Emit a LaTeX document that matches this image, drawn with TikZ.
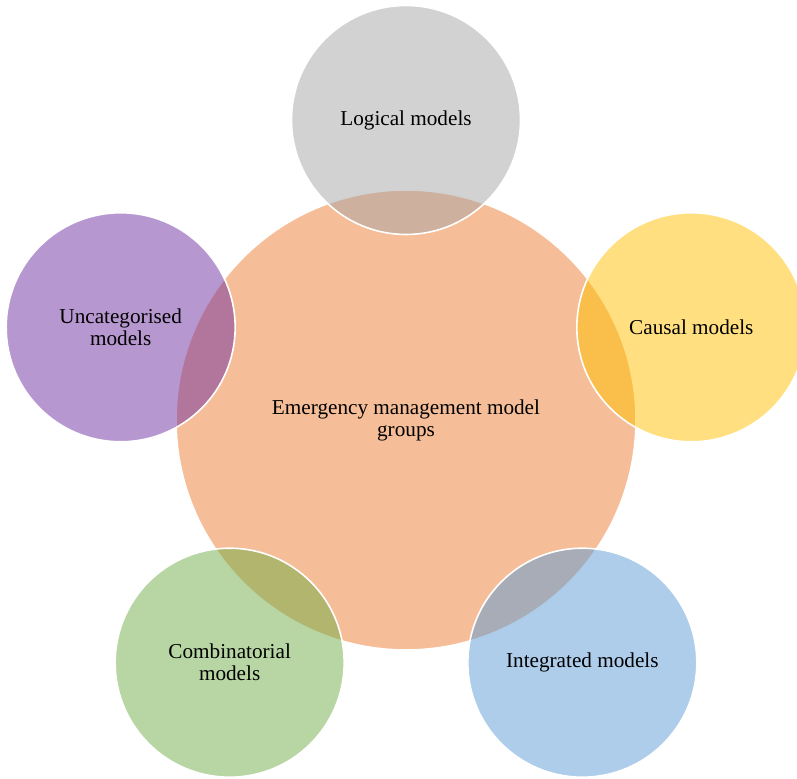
\documentclass[tikz,border=0pt]{standalone}
\usepackage{fontspec}
\setmainfont{Liberation Serif}
\usepackage{tikz}

\definecolor{emgorange}{HTML}{ED7D31}
\definecolor{loggray}{HTML}{A5A5A5}
\definecolor{causyellow}{HTML}{FFC000}
\definecolor{integblue}{HTML}{5B9BD5}
\definecolor{combgreen}{HTML}{70AD47}
\definecolor{uncatpurple}{HTML}{7030A0}

\begin{document}
\begin{tikzpicture}
	[
	   x = 0.5pt, y = 0.5pt,
	   group/.style = {circle, draw = white, line width = 0.8pt, fill opacity = 0.5,
	                   text opacity = 1, inner sep = 0pt, align = center,
	                   font = \fontsize{10.6}{11}\selectfont},
	   main/.style = {group, minimum size = 230pt},
	   sub/.style = {group, minimum size = 114.5pt},
	]
	\useasboundingbox (-406,-359) rectangle (391,420);
	\clip (-406,-359) rectangle (391,420);
	\node [main, fill = emgorange] (emg) at (0,0) {Emergency management model\\groups};
	\node [sub, fill = loggray] (logical) at (90:300) {Logical models};
	\node [sub, fill = causyellow] (causal) at (18:300) {Causal models};
	\node [sub, fill = integblue] (integrated) at (-54:300) {Integrated models};
	\node [sub, fill = combgreen] (combinatorial) at (-126:300) {Combinatorial\\models};
	\node [sub, fill = uncatpurple] (uncategorised) at (162:300) {Uncategorised\\models};
\end{tikzpicture}
\end{document}
